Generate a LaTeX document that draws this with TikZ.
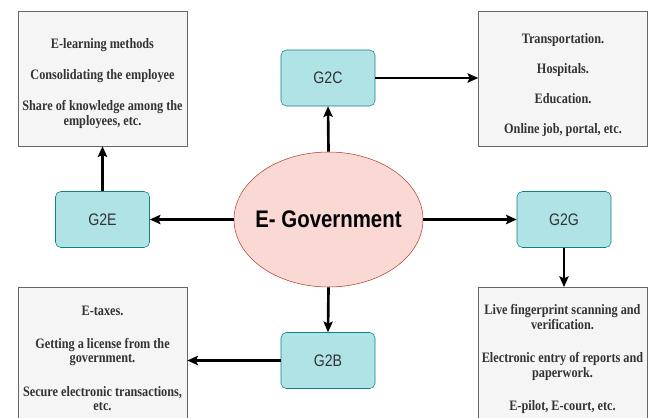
\documentclass[tikz,border=0pt]{standalone}
\usepackage{fontspec}
\usetikzlibrary{arrows.meta,shapes.geometric}
\newfontfamily\itemfont[FakeStretch=0.85]{Liberation Serif}
\newfontfamily\gfont[FakeStretch=0.85]{Liberation Sans}
\definecolor{gfill}{HTML}{B0E3E6}
\definecolor{gline}{HTML}{0E8088}
\definecolor{efill}{HTML}{FAD9D5}
\definecolor{eline}{HTML}{AE4132}
\definecolor{boxfill}{HTML}{F5F5F5}
\definecolor{boxline}{HTML}{666666}
\definecolor{inktext}{HTML}{333333}
\tikzset{
  gbox/.style={draw=gline, fill=gfill, rounded corners=4pt, minimum width=70.5pt,
    minimum height=42pt, inner sep=0pt, text=inktext, font=\gfont\fontsize{12.5pt}{14pt}\selectfont},
  infobox/.style={draw=boxline, fill=boxfill, minimum width=126.75pt, align=center, inner xsep=0pt,
    text=inktext, font=\itemfont\bfseries\fontsize{10.8pt}{11pt}\selectfont},
  link/.style={line width=2pt, -{Stealth[length=8pt,width=7pt,inset=1.5pt]}},
}
\begin{document}
\begin{tikzpicture}[x=0.75pt,y=-0.75pt]
\useasboundingbox (0,0) rectangle (654,418);
\clip (0,0) rectangle (654,418);
\node[draw=eline, fill=efill, ellipse, minimum width=141.75pt, minimum height=101.25pt, inner sep=0pt,
  font=\gfont\bfseries\fontsize{18pt}{20pt}\selectfont] (egov) at (328.5,219.5) {\makebox[0pt]{E- Government}};
\node[gbox] (g2c) at (328,78) {G2C};
\node[gbox] (g2e) at (102.5,219.5) {G2E};
\node[gbox] (g2g) at (564,219.5) {G2G};
\node[gbox] (g2b) at (328,360.5) {G2B};
\node[infobox, minimum height=101.25pt] (empl) at (102.5,78.5)
  {\rule{0pt}{15pt}E-learning methods\\[12.5pt] Consolidating the employee\\[12.5pt] Share of knowledge among the\\ employees, etc.};
\node[infobox, minimum height=101.25pt] (citz) at (563,78.5)
  {\rule{0pt}{17pt}Transportation.\\[11.5pt] Hospitals.\\[11.5pt] Education.\\[11.5pt] Online job, portal, etc.};
\node[infobox, anchor=north, text depth=120pt, inner ysep=14pt] (busn) at (102.5,287)
  {E-taxes.\\[13.5pt] Getting a license from the\\ government.\\[14pt] Secure electronic transactions,\\ etc.};
\node[infobox, anchor=north, text depth=120pt, inner ysep=13pt] (govt) at (562.5,287)
  {Live fingerprint scanning and\\ verification.\\[14pt] Electronic entry of reports and\\ paperwork.\\[13.5pt] E-pilot, E-court, etc.};
% links
\draw[link] (egov.north) -- (g2c.south);
\draw[link] (g2c.east) -- (g2c.east -| citz.west);
\draw[link] (egov.west) -- (g2e.east);
\draw[link] (g2e.north) -- (g2e.north |- empl.south);
\draw[link] (egov.east) -- (g2g.west);
\draw[link] (g2g.south) -- (g2g.south |- govt.north);
\draw[link] (egov.south) -- (g2b.north);
\draw[link] (g2b.west) -- (g2b.west -| busn.east);
\end{tikzpicture}
\end{document}
